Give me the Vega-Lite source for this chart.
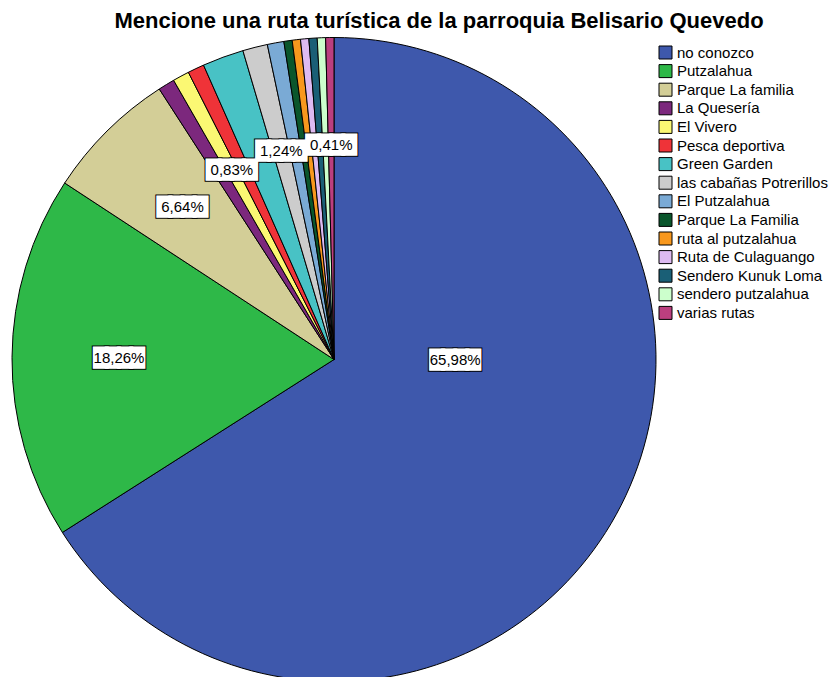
{
  "$schema": "https://vega.github.io/schema/vega-lite/v6.json",
  "width": 668,
  "height": 635,
  "autosize": {"type": "none"},
  "padding": {"left": 0, "top": 42, "right": 161, "bottom": 0},
  "background": "white",
  "title": {
    "text": "Mencione una ruta turística de la parroquia Belisario Quevedo",
    "font": "Liberation Sans",
    "fontSize": 22,
    "fontWeight": "bold",
    "color": "black",
    "anchor": "middle",
    "frame": "group",
    "dx": 105,
    "dy": 26,
    "offset": 12,
    "baseline": "alphabetic"
  },
  "config": {"view": {"stroke": null}},
  "data": {
    "values": [
      {"rank": 1, "category": "no conozco", "count": 159, "label": "65,98%"},
      {"rank": 2, "category": "Putzalahua", "count": 44, "label": "18,26%"},
      {"rank": 3, "category": "Parque La familia", "count": 16, "label": "6,64%"},
      {"rank": 4, "category": "La Quesería", "count": 2, "label": ""},
      {"rank": 5, "category": "El Vivero", "count": 2, "label": "0,83%"},
      {"rank": 6, "category": "Pesca deportiva", "count": 2, "label": ""},
      {"rank": 7, "category": "Green Garden", "count": 5, "label": ""},
      {"rank": 8, "category": "las cabañas Potrerillos", "count": 3, "label": "1,24%"},
      {"rank": 9, "category": "El Putzalahua", "count": 2, "label": ""},
      {"rank": 10, "category": "Parque La Familia", "count": 1, "label": ""},
      {"rank": 11, "category": "ruta al putzalahua", "count": 1, "label": ""},
      {"rank": 12, "category": "Ruta de Culaguango", "count": 1, "label": ""},
      {"rank": 13, "category": "Sendero Kunuk Loma", "count": 1, "label": ""},
      {"rank": 14, "category": "sendero putzalahua", "count": 1, "label": ""},
      {"rank": 15, "category": "varias rutas", "count": 1, "label": "0,41%"}
    ]
  },
  "encoding": {
    "theta": {"field": "count", "type": "quantitative", "stack": true},
    "order": {"field": "rank", "type": "quantitative"}
  },
  "layer": [
    {
      "mark": {"type": "arc", "outerRadius": 322, "stroke": "black", "strokeWidth": 1},
      "encoding": {
        "color": {
          "field": "category",
          "type": "nominal",
          "scale": {
            "domain": ["no conozco", "Putzalahua", "Parque La familia", "La Quesería", "El Vivero", "Pesca deportiva", "Green Garden", "las cabañas Potrerillos", "El Putzalahua", "Parque La Familia", "ruta al putzalahua", "Ruta de Culaguango", "Sendero Kunuk Loma", "sendero putzalahua", "varias rutas"],
            "range": ["#3E58AC", "#2EB848", "#D3CE97", "#7C287D", "#FBF873", "#EF3338", "#48C2C5", "#CCCCCC", "#7AAAD5", "#0A562C", "#F8981D", "#DDBAF1", "#1A5F76", "#CCFFCC", "#BB3F7F"]
          },
          "legend": {
            "title": null,
            "orient": "none",
            "legendX": 658,
            "legendY": 3,
            "padding": 0,
            "symbolType": "square",
            "symbolSize": 169,
            "symbolStrokeColor": "black",
            "symbolStrokeWidth": 1,
            "symbolOpacity": 1,
            "labelFont": "Liberation Sans",
            "labelFontSize": 15,
            "labelColor": "black",
            "labelOffset": 4,
            "rowPadding": 1.6,
            "labelLimit": 300
          }
        }
      }
    },
    {
      "mark": {"type": "text", "radius": 215, "font": "DejaVu Sans", "fontSize": 15.8, "baseline": "middle", "align": "center", "fill": "black", "stroke": "black", "strokeWidth": 5.6, "strokeJoin": "miter"},
      "encoding": {
        "detail": {"field": "rank", "type": "nominal"},
        "text": {"condition": {"test": "datum.label != '' && datum.count < 100", "value": "████"}, "value": ""}
      }
    },
    {
      "mark": {"type": "text", "radius": 215, "font": "DejaVu Sans", "fontSize": 15.8, "baseline": "middle", "align": "center", "fill": "white", "stroke": "white", "strokeWidth": 3.6, "strokeJoin": "miter"},
      "encoding": {
        "detail": {"field": "rank", "type": "nominal"},
        "text": {"condition": {"test": "datum.label != '' && datum.count < 100", "value": "████"}, "value": ""}
      }
    },
    {
      "mark": {"type": "text", "radius": 215, "font": "Liberation Sans", "fontSize": 15, "baseline": "middle", "align": "center", "fill": "black"},
      "encoding": {
        "detail": {"field": "rank", "type": "nominal"},
        "text": {"condition": {"test": "datum.count < 100", "field": "label"}, "value": ""}
      }
    },
    {
      "mark": {"type": "text", "radius": 120, "dx": 16, "dy": -57, "font": "DejaVu Sans", "fontSize": 15.8, "baseline": "middle", "align": "center", "fill": "black", "stroke": "black", "strokeWidth": 5.6, "strokeJoin": "miter"},
      "encoding": {
        "detail": {"field": "rank", "type": "nominal"},
        "text": {"condition": {"test": "datum.count >= 100", "value": "████"}, "value": ""}
      }
    },
    {
      "mark": {"type": "text", "radius": 120, "dx": 16, "dy": -57, "font": "DejaVu Sans", "fontSize": 15.8, "baseline": "middle", "align": "center", "fill": "white", "stroke": "white", "strokeWidth": 3.6, "strokeJoin": "miter"},
      "encoding": {
        "detail": {"field": "rank", "type": "nominal"},
        "text": {"condition": {"test": "datum.count >= 100", "value": "████"}, "value": ""}
      }
    },
    {
      "mark": {"type": "text", "radius": 120, "dx": 16, "dy": -57, "font": "Liberation Sans", "fontSize": 15, "baseline": "middle", "align": "center", "fill": "black"},
      "encoding": {
        "detail": {"field": "rank", "type": "nominal"},
        "text": {"condition": {"test": "datum.count >= 100", "field": "label"}, "value": ""}
      }
    }
  ]
}
